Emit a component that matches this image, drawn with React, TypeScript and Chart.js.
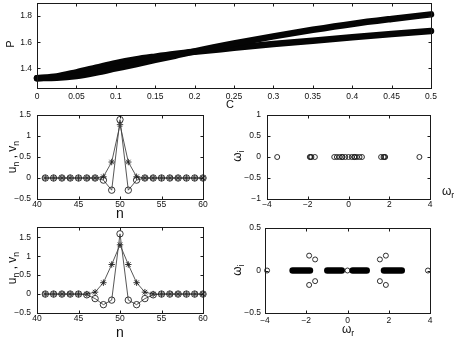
import React, { useEffect, useRef } from "react";
import { Chart, registerables } from "chart.js";
Chart.register(...registerables);

// ---------- Top panel: P versus C ----------
const cValues = [0, 0.025, 0.05, 0.075, 0.1, 0.125, 0.15, 0.175, 0.2, 0.25, 0.3, 0.35, 0.4, 0.45, 0.5];
const pBranchA = [1.325, 1.328, 1.342, 1.368, 1.4, 1.432, 1.465, 1.497, 1.53, 1.59, 1.645, 1.695, 1.74, 1.778, 1.813];
const pBranchB = [1.325, 1.338, 1.37, 1.405, 1.44, 1.468, 1.49, 1.51, 1.527, 1.557, 1.587, 1.612, 1.638, 1.663, 1.686];
const topXTicks = [0, 0.05, 0.1, 0.15, 0.2, 0.25, 0.3, 0.35, 0.4, 0.45, 0.5];
const topYTicks = [1.4, 1.6, 1.8];

// ---------- Profiles u_n, v_n ----------
const nValues = [41, 42, 43, 44, 45, 46, 47, 48, 49, 50, 51, 52, 53, 54, 55, 56, 57, 58, 59, 60];
const uMid = [0, 0, 0, 0, 0, 0, 0, -0.05, -0.29, 1.39, -0.29, -0.05, 0, 0, 0, 0, 0, 0, 0, 0];
const vMid = [0, 0, 0, 0, 0, 0, 0, 0.03, 0.38, 1.27, 0.38, 0.03, 0, 0, 0, 0, 0, 0, 0, 0];
const uBot = [0, 0, 0, 0, 0, -0.02, -0.12, -0.28, -0.16, 1.59, -0.16, -0.28, -0.12, -0.02, 0, 0, 0, 0, 0, 0];
const vBot = [0, 0, 0, 0, 0, 0, 0.05, 0.3, 0.78, 1.3, 0.78, 0.3, 0.05, 0, 0, 0, 0, 0, 0, 0];
const nTicks = [40, 45, 50, 55, 60];
const profMidYTicks = [-0.5, 0, 0.5, 1, 1.5];
const profBotYTicks = [-0.5, 0, 0.5, 1, 1.5];

// ---------- Spectra ----------
const omegaRMid = [-3.5, -1.9, -1.86, -1.82, -1.65, -0.7, -0.57, -0.44, -0.32, -0.3, -0.16, 0, 0.16, 0.28, 0.3, 0.41, 0.54, 0.66, 1.6, 1.72, 1.76, 1.8, 3.48];
const omegaIMid = [0, 0, 0, 0, 0, 0, 0, 0, 0, 0, 0, 0, 0, 0, 0, 0, 0, 0, 0, 0, 0, 0, 0];
const bandStarts = [-2.66, -0.98, 0.25, 1.77];
const bandEnds = [-1.82, -0.28, 0.93, 2.63];
const omegaRBot = [-3.9, -1.86, -1.57, -1.86, -1.57, 0, 1.57, 1.86, 1.57, 1.86, 3.9];
const omegaIBot = [0, 0.175, 0.13, -0.17, -0.125, 0, 0.13, 0.175, -0.125, -0.17, 0];
const omegaXTicks = [-4, -2, 0, 2, 4];
const specMidYTicks = [-1, -0.5, 0, 0.5, 1];
const specBotYTicks = [-0.5, 0, 0.5];

const FONT = '"Liberation Sans", Arial, Helvetica, sans-serif';
const AXIS = "#1a1a1a";

const fmt = (v: number) => {
  const r = +Number(v).toFixed(4);
  if (r === 0) return "0";
  return (r < 0 ? "\u2212" : "") + String(Math.abs(r));
};

const boxPlugin = {
  id: "matlabBox",
  afterDraw(chart: any) {
    const { ctx, chartArea: a, scales } = chart;
    const L = Math.round(a.left) + 0.5, R = Math.round(a.right) + 0.5;
    const T = Math.round(a.top) + 0.5, B = Math.round(a.bottom) + 0.5;
    ctx.save();
    ctx.strokeStyle = AXIS;
    ctx.lineWidth = 1;
    ctx.strokeRect(L, T, R - L, B - T);
    const tl = 3;
    ctx.beginPath();
    for (const t of scales.x.ticks) {
      const px = Math.round(scales.x.getPixelForValue(t.value)) + 0.5;
      ctx.moveTo(px, B); ctx.lineTo(px, B - tl);
      ctx.moveTo(px, T); ctx.lineTo(px, T + tl);
    }
    for (const t of scales.y.ticks) {
      const py = Math.round(scales.y.getPixelForValue(t.value)) + 0.5;
      ctx.moveTo(L, py); ctx.lineTo(L + tl, py);
      ctx.moveTo(R, py); ctx.lineTo(R - tl, py);
    }
    ctx.stroke();
    ctx.restore();
  },
};

type Box = { x: number; y: number; w: number; h: number };
type Area = { l: number; t: number; r: number; b: number };

function makeConfig(o: {
  box: Box; area: Area; xMin: number; xMax: number; yMin: number; yMax: number;
  xTicks: number[]; yTicks: number[]; datasets: any[]; xPad: number; yPad: number;
}) {
  const lw = o.area.l - o.box.x;
  const bh = o.box.y + o.box.h - o.area.b;
  const tickFont = { family: FONT, size: 8.5 };
  return {
    type: "scatter",
    data: { datasets: o.datasets },
    plugins: [boxPlugin],
    options: {
      responsive: false,
      animation: false,
      devicePixelRatio: 1,
      events: [],
      layout: { padding: { top: o.area.t - o.box.y, right: o.box.x + o.box.w - o.area.r, left: 0, bottom: 0 } },
      plugins: { legend: { display: false }, tooltip: { enabled: false } },
      scales: {
        x: {
          type: "linear", min: o.xMin, max: o.xMax,
          grid: { display: false, drawTicks: false }, border: { display: false },
          ticks: { font: tickFont, color: "#111", padding: o.xPad, maxRotation: 0, autoSkip: false, callback: (v: any) => fmt(v) },
          afterBuildTicks: (s: any) => { s.ticks = o.xTicks.map((v) => ({ value: v })); },
          afterFit: (s: any) => { s.height = bh; s.paddingLeft = 0; s.paddingRight = 0; },
        },
        y: {
          type: "linear", min: o.yMin, max: o.yMax,
          grid: { display: false, drawTicks: false }, border: { display: false },
          ticks: { font: tickFont, color: "#111", padding: o.yPad, autoSkip: false, callback: (v: any) => fmt(v) },
          afterBuildTicks: (s: any) => { s.ticks = o.yTicks.map((v) => ({ value: v })); },
          afterFit: (s: any) => { s.width = lw; s.paddingTop = 0; s.paddingBottom = 0; },
        },
      },
    },
  };
}

const pts = (xs: number[], ys: number[]) => xs.map((x, i) => ({ x, y: ys[i] }));

function topConfig(box: Box) {
  const line = (ys: number[]) => ({
    data: pts(cValues, ys), showLine: true, borderColor: "#050505", borderWidth: 6.5,
    borderCapStyle: "round", borderJoinStyle: "round", cubicInterpolationMode: "monotone",
    pointRadius: 0, clip: false,
  });
  return makeConfig({
    box, area: { l: 37, t: 3, r: 431, b: 88 }, xMin: 0, xMax: 0.5, yMin: 1.25, yMax: 1.9,
    xTicks: topXTicks, yTicks: topYTicks, datasets: [line(pBranchA), line(pBranchB)], xPad: 4, yPad: 5,
  });
}

function profileConfig(box: Box, area: Area, u: number[], v: number[], yMax: number, yTicks: number[]) {
  const ds = (ys: number[], style: string, r: number) => ({
    data: pts(nValues, ys), showLine: true, borderColor: "#444", borderWidth: 0.9,
    pointStyle: style, pointRadius: r, pointBorderColor: "#222", pointBorderWidth: 0.9,
    pointBackgroundColor: "rgba(0,0,0,0)", clip: false,
  });
  return makeConfig({
    box, area, xMin: 40, xMax: 60, yMin: -0.5, yMax,
    xTicks: nTicks, yTicks, datasets: [ds(u, "circle", 3.2), ds(v, "star", 3.2)], xPad: 1, yPad: 6,
  });
}

function specMidConfig(box: Box) {
  return makeConfig({
    box, area: { l: 267, t: 115, r: 430, b: 199 }, xMin: -4, xMax: 4, yMin: -1, yMax: 1,
    xTicks: omegaXTicks, yTicks: specMidYTicks, xPad: 1, yPad: 6,
    datasets: [{
      data: pts(omegaRMid, omegaIMid), pointStyle: "circle", pointRadius: 2.5,
      pointBorderColor: "#1a1a1a", pointBorderWidth: 0.9, pointBackgroundColor: "rgba(0,0,0,0)", clip: false,
    }],
  });
}

function specBotConfig(box: Box) {
  const bands = bandStarts.map((s, i) => ({
    data: [{ x: s, y: 0 }, { x: bandEnds[i], y: 0 }], showLine: true, borderColor: "#000",
    borderWidth: 6.5, borderCapStyle: "round", pointRadius: 0, clip: false,
  }));
  return makeConfig({
    box, area: { l: 265, t: 228, r: 430, b: 313 }, xMin: -4, xMax: 4, yMin: -0.5, yMax: 0.5,
    xTicks: omegaXTicks, yTicks: specBotYTicks, xPad: 3, yPad: 4,
    datasets: [
      ...bands,
      {
        data: pts(omegaRBot, omegaIBot), pointStyle: "circle", pointRadius: 2.5,
        pointBorderColor: "#1a1a1a", pointBorderWidth: 0.9, pointBackgroundColor: "#fff", clip: false,
      },
    ],
  });
}

function Panel({ box, make }: { box: Box; make: (b: Box) => any }) {
  const ref = useRef<HTMLCanvasElement | null>(null);
  useEffect(() => {
    const ch = new Chart(ref.current as HTMLCanvasElement, make(box));
    return () => ch.destroy();
  }, []);
  return (
    <canvas ref={ref} width={box.w} height={box.h}
      style={{ position: "absolute", left: box.x, top: box.y, width: box.w, height: box.h }} />
  );
}

function Label({ x, y, size, rotate, children }: { x: number; y: number; size: number; rotate?: boolean; children: any }) {
  return (
    <div style={{
      position: "absolute", left: x, top: y, fontFamily: FONT, fontSize: size, color: "#111",
      whiteSpace: "nowrap", lineHeight: 1,
      transform: `translate(-50%, -50%)${rotate ? " rotate(-90deg)" : ""}`,
    }}>{children}</div>
  );
}

const subStyle: any = { fontSize: "72%", verticalAlign: "-0.35em", lineHeight: 0 };

export default function App() {
  const topBox = { x: 0, y: 0, w: 463, h: 103 };
  const midLBox = { x: 0, y: 108, w: 225, h: 105 };
  const midRBox = { x: 232, y: 108, w: 231, h: 105 };
  const botLBox = { x: 0, y: 220, w: 225, h: 110 };
  const botRBox = { x: 232, y: 220, w: 231, h: 110 };
  return (
    <div style={{ position: "absolute", left: 0, top: 0, width: 463, height: 343, background: "#fff", overflow: "hidden" }}>
      <Panel box={topBox} make={topConfig} />
      <Panel box={midLBox} make={(b) => profileConfig(b, { l: 37, t: 115, r: 203, b: 199 }, uMid, vMid, 1.5, profMidYTicks)} />
      <Panel box={midRBox} make={specMidConfig} />
      <Panel box={botLBox} make={(b) => profileConfig(b, { l: 37, t: 227, r: 203, b: 313 }, uBot, vBot, 1.77, profBotYTicks)} />
      <Panel box={botRBox} make={specBotConfig} />

      <Label x={10} y={44} size={11} rotate>P</Label>
      <Label x={230} y={104} size={11}>C</Label>
      <Label x={12} y={157} size={12} rotate>u<span style={subStyle}>n</span> , v<span style={subStyle}>n</span></Label>
      <Label x={120} y={213} size={14}>n</Label>
      <Label x={237} y={156} size={12} rotate>ω<span style={subStyle}>i</span></Label>
      <Label x={448} y={191} size={12}>ω<span style={subStyle}>r</span></Label>
      <Label x={12} y={268} size={12} rotate>u<span style={subStyle}>n</span> , v<span style={subStyle}>n</span></Label>
      <Label x={120} y={332} size={14}>n</Label>
      <Label x={237} y={270} size={12} rotate>ω<span style={subStyle}>i</span></Label>
      <Label x={348} y={329} size={12}>ω<span style={subStyle}>r</span></Label>
    </div>
  );
}
